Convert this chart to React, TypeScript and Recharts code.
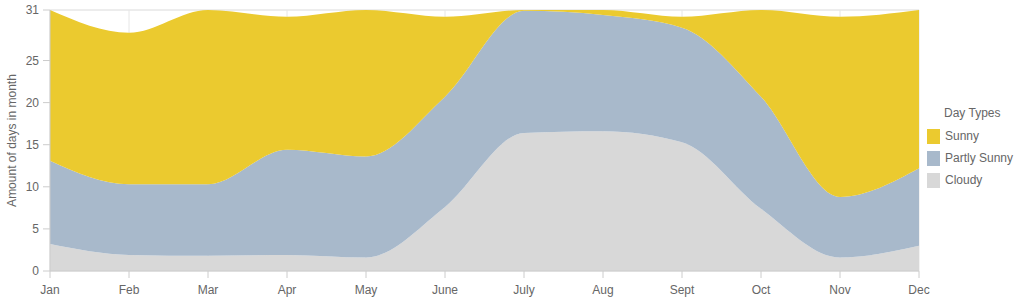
import React from 'react';
import { AreaChart, Area, XAxis, YAxis, CartesianGrid, Legend } from 'recharts';

const MONTHS = ['Jan', 'Feb', 'Mar', 'Apr', 'May', 'June', 'July', 'Aug', 'Sept', 'Oct', 'Nov', 'Dec'];
const CLOUDY = [3.2, 1.9, 1.8, 1.9, 1.6, 7.6, 16.4, 16.6, 15.3, 7.4, 1.6, 3.0];
const PARTLY_SUNNY = [9.9, 8.4, 8.5, 12.5, 12.0, 13.1, 14.5, 13.8, 13.6, 13.3, 7.2, 9.2];
const SUNNY = [17.9, 18.0, 20.7, 15.8, 17.4, 9.5, 0.1, 0.6, 1.3, 10.3, 21.4, 18.8];
const Y_TICKS = [0, 5, 10, 15, 20, 25, 31];

const SERIES = [
  { key: 'sunny', name: 'Sunny', color: '#ebca2f' },
  { key: 'partly', name: 'Partly Sunny', color: '#a8b9cb' },
  { key: 'cloudy', name: 'Cloudy', color: '#d8d8d8' },
];

const data = MONTHS.map((month, i) => ({
  month,
  cloudy: CLOUDY[i],
  partly: PARTLY_SUNNY[i],
  sunny: SUNNY[i],
}));

const FONT = '"Liberation Sans", Arial, sans-serif';

const renderLegend = () => (
  <div style={{ fontFamily: FONT, fontSize: 12, color: '#666', width: 97, marginTop: -3 }}>
    <div style={{ marginLeft: 17, marginBottom: 5, height: 14, lineHeight: '14px' }}>Day Types</div>
    {SERIES.map(s => (
      <div key={s.key} style={{ display: 'flex', alignItems: 'center', height: 22 }}>
        <span style={{ display: 'inline-block', width: 13, height: 15, background: s.color, marginRight: 5 }} />
        <span>{s.name}</span>
      </div>
    ))}
  </div>
);

const renderYLabel = (props: any) => {
  const { y, height } = props.viewBox;
  const cx = 12;
  const cy = y + height / 2;
  return (
    <text
      x={cx}
      y={cy}
      transform={`rotate(-90 ${cx} ${cy})`}
      textAnchor="middle"
      dominantBaseline="central"
      fill="#666"
      fontSize={12}
      fontFamily={FONT}
    >
      Amount of days in month
    </text>
  );
};

export default function App() {
  return (
    <div>
      <style>{'body { margin: 0; }'}</style>
      <AreaChart width={1024} height={300} data={data} margin={{ top: 10, right: 8, left: 0, bottom: 0 }}>
        <CartesianGrid stroke="#e6e6e6" />
        <XAxis
          dataKey="month"
          tick={{ fontSize: 12, fill: '#666', fontFamily: FONT }}
          tickSize={7}
          tickMargin={7}
          height={29}
          stroke="#ccc"
          interval={0}
        />
        <YAxis
          domain={[0, 31]}
          ticks={Y_TICKS}
          width={50}
          tick={{ fontSize: 12, fill: '#666', fontFamily: FONT }}
          tickSize={7}
          tickMargin={4}
          stroke="#ccc"
          label={renderYLabel}
        />
        <Legend layout="vertical" align="right" verticalAlign="middle" content={renderLegend} wrapperStyle={{ right: 0, width: 97 }} />
        {[...SERIES].reverse().map(s => (
          <Area
            key={s.key}
            type="monotone"
            dataKey={s.key}
            name={s.name}
            stackId="days"
            stroke="none"
            fill={s.color}
            fillOpacity={1}
            isAnimationActive={false}
          />
        ))}
      </AreaChart>
    </div>
  );
}
